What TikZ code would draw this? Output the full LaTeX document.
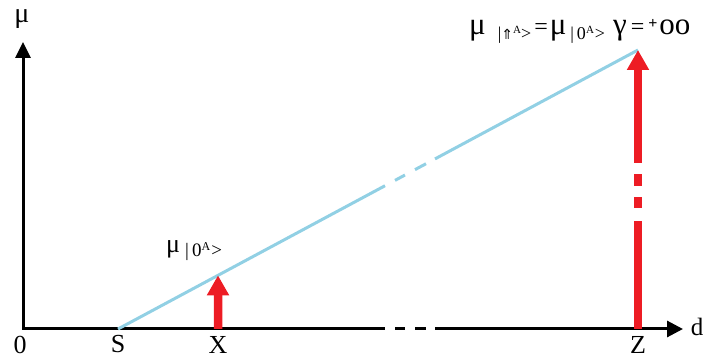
\documentclass[tikz,border=0pt]{standalone}
\usepackage{fontspec}
\setmainfont{Liberation Serif}
\newfontfamily\symfont{DejaVu Sans}
\usetikzlibrary{arrows.meta,calc}
\definecolor{lineblue}{RGB}{145,208,228}
\definecolor{arrred}{RGB}{237,28,36}
% #1 size, #2 text
\newcommand\mysub[2]{\raisebox{-0.3ex}{\fontsize{#1}{#1}\selectfont #2}}
\newcommand\mysup[2]{\raisebox{0.75ex}{\fontsize{#1}{#1}\selectfont #2}}
\tikzset{
  axis/.style={line width=3pt, black},
  bluel/.style={line width=3pt, lineblue},
  redl/.style={line width=8.5pt, arrred},
  redarr/.style={redl, -{Triangle[width=21pt,length=20pt]}},
  axlab/.style={font=\fontsize{26}{26}\selectfont, inner sep=0pt},
}
\begin{document}
\begin{tikzpicture}[x=1pt,y=-1pt]
\useasboundingbox (0,0) rectangle (705,358);
% coordinates
\coordinate (O) at (23,329);
\coordinate (Ytip) at (23,42);
\coordinate (Xtip) at (683,329);
\coordinate (S) at (118,329);
\coordinate (Xp) at (218,329);
\coordinate (Zp) at (638,329);
\coordinate (Ztop) at (638,50);
\coordinate (Xtop) at ($(S)!0.1923!(Ztop)$);
% axes
\coordinate (ag1) at (385,329);
\coordinate (ad1a) at (395,329);
\coordinate (ad1b) at (405,329);
\coordinate (ad2a) at (415,329);
\coordinate (ad2b) at (426,329);
\coordinate (ag2) at (435,329);
\draw[axis, {Triangle[width=15pt,length=16pt]}-, line join=miter] (Ytip) -- (O) -- (ag1);
\draw[axis] (ad1a) -- (ad1b);
\draw[axis] (ad2a) -- (ad2b);
\draw[axis, -{Triangle[width=16pt,length=16pt]}] (ag2) -- (Xtip);
% blue line with gap
\coordinate (bg1) at ($(S)!0.5135!(Ztop)$);
\coordinate (bd1a) at ($(S)!0.5327!(Ztop)$);
\coordinate (bd1b) at ($(S)!0.5519!(Ztop)$);
\coordinate (bd2a) at ($(S)!0.5712!(Ztop)$);
\coordinate (bd2b) at ($(S)!0.5923!(Ztop)$);
\coordinate (bg2) at ($(S)!0.6096!(Ztop)$);
\draw[bluel] (S) -- (bg1);
\draw[bluel] (bd1a) -- (bd1b);
\draw[bluel] (bd2a) -- (bd2b);
\draw[bluel] (bg2) -- (Ztop);
% red arrow at X
\draw[redarr] (Xp) -- (Xtop);
% red arrow at Z with gaps
\coordinate (zg1) at (638,221);
\coordinate (zd1a) at (638,208);
\coordinate (zd1b) at (638,197);
\coordinate (zd2a) at (638,186);
\coordinate (zd2b) at (638,174);
\coordinate (zg2) at (638,163);
\draw[redl] (Zp) -- (zg1);
\draw[redl] (zd1a) -- (zd1b);
\draw[redl] (zd2a) -- (zd2b);
\draw[redarr] (zg2) -- (Ztop);
% axis labels
\node[axlab] (l0) at (20,344.5) {0};
\node[axlab] (lS) at (118,344.5) {S};
\node[axlab] (lX) at (218,344.5) {X};
\node[axlab] (lZ) at (638,344.5) {Z};
\node[axlab, font=\fontsize{25}{25}\selectfont] (ld) at (697,327) {d};
\node[axlab, font=\fontsize{28}{28}\selectfont] (lmu) at (22,19) {μ};
% value labels
\node[anchor=base west, inner sep=0pt, font=\fontsize{26}{26}\selectfont] (lmuX) at (166,253)
  {μ\hspace{5pt}\mysub{19}{|\,0\mysup{12}{A}\hspace{1pt}>}};
\node[anchor=base west, inner sep=0pt, font=\fontsize{31}{31}\selectfont] (lmuZ) at (469,35)
  {μ\hspace{12pt}\mysub{18}{|{\fontsize{14}{14}\symfont ⇑}\mysup{11}{A}>}\hspace{3pt}{\fontsize{24}{24}\selectfont =}\hspace{2pt}μ\hspace{4pt}\mysub{18}{|\,0\mysup{11}{A}\hspace{1pt}>}\hspace{8pt}γ\hspace{4pt}{\fontsize{24}{24}\selectfont =}\hspace{4pt}\raisebox{0.2em}{\fontsize{16}{16}\selectfont\textbf{+}}\hspace{2pt}oo};
\end{tikzpicture}
\end{document}
